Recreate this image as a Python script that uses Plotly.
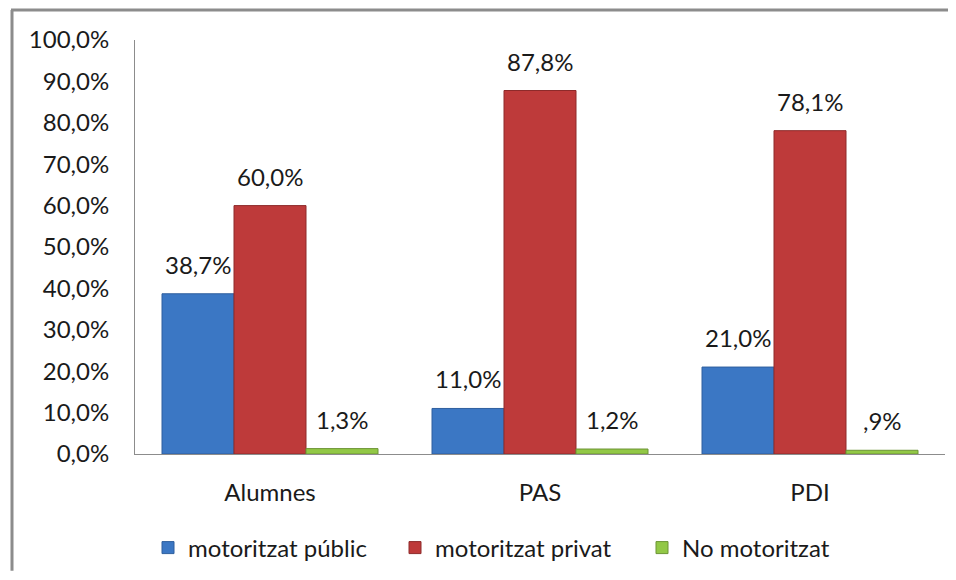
import plotly.graph_objects as go

categories = ["Alumnes", "PAS", "PDI"]
series_names = ["motoritzat públic", "motoritzat privat", "No motoritzat"]
publico = [38.7, 11.0, 21.0]
privado = [60.0, 87.8, 78.1]
no_motor = [1.3, 1.2, 0.9]
y_ticks = [0, 10, 20, 30, 40, 50, 60, 70, 80, 90, 100]
y_tick_labels = ["0,0%", "10,0%", "20,0%", "30,0%", "40,0%", "50,0%",
                 "60,0%", "70,0%", "80,0%", "90,0%", "100,0%"]

colors = ["#3B77C4", "#BE3A3A", "#92C846"]
edge = ["#2F5F9E", "#8E2A2A", "#6C9434"]
FONT = "Lato"
FS = 24
TXT = "#1a1a1a"


def fmt(v):
    s = f"{v:.1f}".replace(".", ",")
    if s.startswith("0,"):
        s = s[1:]
    return s + "%"


fig = go.Figure()
all_series = [publico, privado, no_motor]
for name, vals, c, e in zip(series_names, all_series, colors, edge):
    fig.add_trace(go.Bar(
        x=categories, y=vals, name=name,
        marker=dict(color=c, line=dict(color=e, width=1)),
        hoverinfo="skip",
    ))

# data labels above bars
offsets = [-72, 0, 72]
for vals, off in zip(all_series, offsets):
    for cat, v in zip(categories, vals):
        fig.add_annotation(
            x=cat, y=v, text=fmt(v), showarrow=False,
            xshift=off, yshift=13, yanchor="bottom",
            font=dict(family=FONT, size=FS, color=TXT),
        )

# page has an 8px body margin; figure coords = page coords - 8
OFF = 8
W, H = 956 - 2 * OFF, 580 - 2 * OFF
L = 135 - OFF
R = W - (945 - OFF)
T = 40 - OFF
B = H - (455 - OFF)
pw, ph = W - L - R, H - T - B


def px_x(x):
    return (x - OFF - L) / pw


def px_y(y):
    return (H - B - (y - OFF)) / ph


# outer chart frame (only top and left edges visible in the crop)
fig.add_shape(type="line", xref="paper", yref="paper",
              x0=px_x(12), x1=px_x(12), y0=0 - (H - B) / ph * 0 - B / ph, y1=px_y(10),
              line=dict(color="#8c8c8c", width=3), layer="above")
fig.add_shape(type="line", xref="paper", yref="paper",
              x0=px_x(11), x1=1 + R / pw, y0=px_y(10), y1=px_y(10),
              line=dict(color="#8c8c8c", width=3), layer="above")

fig.update_layout(
    width=W, height=H,
    margin=dict(l=L, r=R, t=T, b=B),
    paper_bgcolor="white", plot_bgcolor="white",
    barmode="group", bargap=0.2, bargroupgap=0,
    font=dict(family=FONT, size=FS, color=TXT),
    showlegend=True,
    legend=dict(orientation="h", x=px_x(162) - 14 / pw, xanchor="left",
                y=px_y(548), yanchor="middle",
                font=dict(family=FONT, size=FS, color=TXT),
                itemwidth=30, entrywidth=202, tracegroupgap=0),
    xaxis=dict(showline=True, linecolor="#8c8c8c", linewidth=1,
               showgrid=False, ticks="", ticklabelstandoff=17,
               tickfont=dict(family=FONT, size=FS, color=TXT)),
    yaxis=dict(range=[0, 100], tickvals=y_ticks, ticktext=y_tick_labels,
               showline=True, linecolor="#8c8c8c", linewidth=1,
               showgrid=False, ticks="", zeroline=False,
               ticklabelstandoff=20,
               tickfont=dict(family=FONT, size=FS, color=TXT)),
)

fig.write_html("out.html")
